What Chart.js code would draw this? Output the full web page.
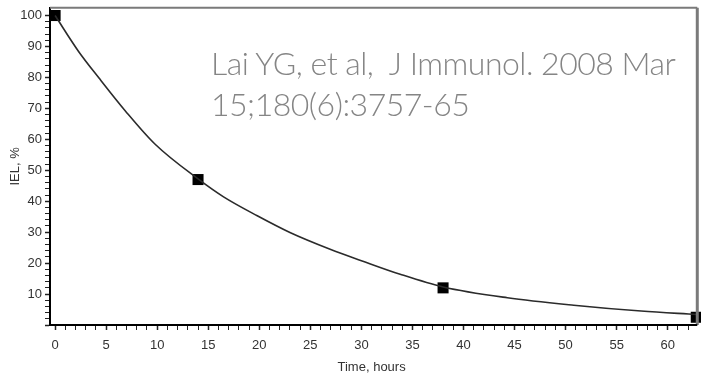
<!DOCTYPE html>
<html>
<head>
<meta charset="utf-8">
<script src="https://cdn.jsdelivr.net/npm/chart.js@4"></script>
<style>
  html, body { margin: 0; padding: 0; background: #fff; }
  #wrap { position: relative; width: 701px; height: 375px; }
  #cite {
    position: absolute; left: 211px; top: 42px;
    font-family: Lato, 'Open Sans', sans-serif; font-weight: 300;
    font-size: 32px; line-height: 41px; color: #858585; letter-spacing: -0.5px;
    white-space: nowrap; pointer-events: none;
  }
</style>
</head>
<body>
<div id="wrap">
  <canvas id="decayChart" width="701" height="375"></canvas>
  <div id="cite">Lai YG, et al,&nbsp; J Immunol. 2008 Mar<br>15;180(6):3757-65</div>
</div>
<script>
// measured points (time, IEL %)
const sampleHours = [0, 14, 38, 62.8];
const sampleIel = [100, 47, 12, 2.5];

// fitted curve
const curveHours = [0, 2.3, 4.3, 6.9, 9.8, 14, 16.5, 19.8, 23, 27, 30, 33.8, 38, 44.3, 50.8, 57.4, 62.8];
const curveIel = [100, 88.4, 79.8, 69.1, 58.4, 47.2, 41.4, 35.3, 29.9, 24.4, 20.8, 16.4, 12.3, 8.8, 6.4, 4.5, 3.4];

const xTickValues = [];
for (let t = 0; t <= 62; t++) xTickValues.push(t);
const yTickValues = [];
for (let v = 0; v <= 100; v += 2) yTickValues.push(v);

const axisFont = { family: "'Liberation Sans Narrow', 'Liberation Sans', Arial, sans-serif", size: 13 };

// gray frame on top and right (right edge sits at t = 62.9)
const framePlugin = {
    id: 'frame',
    afterDraw(chart) {
        const { ctx, chartArea: a } = chart;
        const right = chart.scales.x.getPixelForValue(62.9);
        ctx.save();
        ctx.strokeStyle = '#7a7a7a';
        ctx.lineWidth = 2;
        ctx.beginPath();
        ctx.moveTo(a.left, a.top);
        ctx.lineTo(right, a.top);
        ctx.stroke();
        ctx.lineWidth = 3;
        ctx.beginPath();
        ctx.moveTo(right, a.top);
        ctx.lineTo(right, a.bottom);
        ctx.stroke();
        ctx.strokeStyle = '#000';
        ctx.lineWidth = 2;
        ctx.beginPath();
        ctx.moveTo(a.right, a.bottom);
        ctx.lineTo(right, a.bottom);
        ctx.stroke();
        ctx.restore();
    }
};

const toXY = (xs, ys) => xs.map((x, i) => ({ x: x, y: ys[i] }));

new Chart(document.getElementById('decayChart'), {
    type: 'scatter',
    data: {
        datasets: [{
            label: 'fit',
            data: toXY(curveHours, curveIel),
            showLine: true,
            borderColor: '#2b2b2b',
            borderWidth: 1.6,
            pointRadius: 0,
            cubicInterpolationMode: 'monotone',
            clip: false
        }, {
            label: 'IEL',
            data: toXY(sampleHours, sampleIel),
            showLine: false,
            pointStyle: 'rect',
            pointRadius: 7.8,
            backgroundColor: '#000',
            borderColor: '#000',
            borderWidth: 0,
            clip: false
        }]
    },
    plugins: [framePlugin],
    options: {
        responsive: false,
        animation: false,
        layout: { padding: { top: 0, right: 0, left: 0, bottom: 0 } },
        plugins: {
            legend: { display: false },
            tooltip: { enabled: false }
        },
        scales: {
            x: {
                type: 'linear',
                min: -0.5,
                max: 62.5,
                afterBuildTicks: (s) => { s.ticks = xTickValues.map(v => ({ value: v })); },
                afterFit: (s) => { s.height = 50; s.paddingRight = 0; s.paddingLeft = 0; },
                border: { color: '#000', width: 2 },
                grid: {
                    drawOnChartArea: false,
                    tickLength: 5,
                    tickColor: '#222',
                    tickWidth: (c) => (c.tick && c.tick.value % 5 === 0 ? 1.5 : 1)
                },
                ticks: {
                    autoSkip: false,
                    maxRotation: 0,
                    padding: 8,
                    color: '#333',
                    font: axisFont,
                    callback: (v) => (v % 5 === 0 ? v : '')
                },
                title: {
                    display: true,
                    text: 'Time, hours',
                    color: '#333',
                    font: axisFont,
                    padding: { top: 2, bottom: 0 }
                }
            },
            y: {
                min: 0,
                max: 102.5,
                afterBuildTicks: (s) => { s.ticks = yTickValues.map(v => ({ value: v })); },
                afterFit: (s) => { s.width = 50; s.paddingTop = 6; s.paddingBottom = 0; },
                border: { color: '#000', width: 2 },
                grid: {
                    drawOnChartArea: false,
                    tickLength: 5,
                    tickColor: '#222',
                    tickWidth: (c) => (c.tick && c.tick.value % 10 === 0 ? 1.5 : 1)
                },
                ticks: {
                    autoSkip: false,
                    padding: 3,
                    color: '#333',
                    font: axisFont,
                    callback: (v) => (v % 10 === 0 && v > 0 ? v : '')
                },
                title: {
                    display: true,
                    text: 'IEL, %',
                    color: '#333',
                    font: axisFont,
                    padding: { top: 8, bottom: 2 }
                }
            }
        }
    }
});
</script>
</body>
</html>
